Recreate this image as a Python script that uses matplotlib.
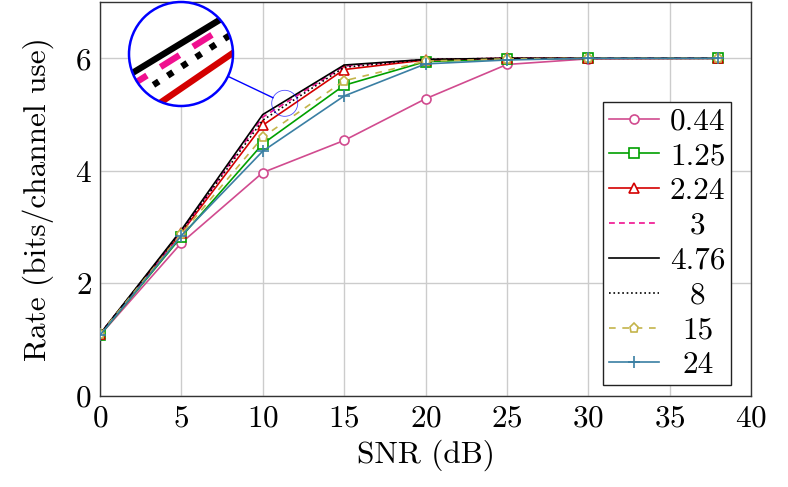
## rate vs SNR for different parameter values, with a circular zoom inset

import numpy as np
from matplotlib import pyplot as plt
from matplotlib.patches import Circle, Ellipse
from matplotlib.lines import Line2D

plt.rcParams['font.family'] = 'cmr10'
plt.rcParams['mathtext.fontset'] = 'cm'
plt.rcParams['axes.formatter.use_mathtext'] = True

## data
snr = [0, 5, 10, 15, 20, 25, 30, 38]
r044 = [1.08, 2.72, 3.97, 4.54, 5.28, 5.89, 5.99, 6.0]
r125 = [1.08, 2.83, 4.48, 5.52, 5.94, 5.99, 6.0, 6.0]
r224 = [1.10, 2.90, 4.81, 5.80, 5.97, 6.0, 6.0, 6.0]
r3 = [1.10, 2.92, 4.955, 5.86, 5.98, 6.0, 6.0, 6.0]
r476 = [1.10, 2.95, 5.0, 5.88, 5.98, 6.0, 6.0, 6.0]
r8 = [1.10, 2.93, 4.90, 5.84, 5.98, 6.0, 6.0, 6.0]
r15 = [1.10, 2.88, 4.60, 5.60, 5.95, 5.99, 6.0, 6.0]
r24 = [1.08, 2.85, 4.35, 5.33, 5.90, 5.97, 6.0, 6.0]
labels = ['0.44', '1.25', '2.24', '3', '4.76', '8', '15', '24']

## style for each curve
styles = [
    dict(color='#d14b8f', ls='-', marker='o', ms=6.5),
    dict(color='#00a000', ls='-', marker='s', ms=6.5),
    dict(color='#d40000', ls='-', marker='^', ms=6.5),
    dict(color='#f0108f', ls=(0, (3.5, 2.5)), marker=None),
    dict(color='black', ls='-', marker=None),
    dict(color='black', ls=':', marker=None),
    dict(color='#c4b44a', ls=(0, (4, 4)), marker='p', ms=6.5),
    dict(color='#3a7fa3', ls='-', marker='+', ms=8),
]
series = [r044, r125, r224, r3, r476, r8, r15, r24]

W, H = 788, 487
fs = 22.5
fig = plt.figure(figsize=(W/100, H/100), dpi=100)
ax = fig.add_axes([100/W, (H-396)/H, 651/W, 394/H])

for y, lab, st in zip(series, labels, styles):
    ax.plot(snr, y, label=lab, color=st['color'], ls=st['ls'], lw=1.2,
            marker=st['marker'], ms=st.get('ms', 6), mfc='white',
            mew=1.2, zorder=3)

ax.set_xlim(0, 40)
ax.set_ylim(0, 7)
ax.set_xticks(range(0, 41, 5))
ax.set_yticks([0, 2, 4, 6])
ax.grid(color='#cccccc', lw=1.0)
ax.set_axisbelow(True)
ax.tick_params(labelsize=fs, direction='in', length=0, pad=6)
for s in ax.spines.values():
    s.set_color('#333333')
    s.set_linewidth(1.0)
ax.set_xlabel('SNR (dB)', fontsize=fs, labelpad=5)
ax.set_ylabel('Rate (bits/channel use)', fontsize=fs, labelpad=15)

leg = ax.legend(loc='upper right', bbox_to_anchor=((731-100)/651, (396-102)/394),
                borderaxespad=0, fontsize=fs, fancybox=False, framealpha=1,
                edgecolor='#222222', handlelength=1.6, handletextpad=0.35,
                labelspacing=0.22, borderpad=0.18)
leg.get_frame().set_linewidth(1.0)

## centre legend labels like pgfplots does
fig.canvas.draw()
r = fig.canvas.get_renderer()
widths = [t.get_window_extent(r).width for t in leg.get_texts()]
wmax = max(widths)
for t, w in zip(leg.get_texts(), widths):
    t.set_x((wmax - w) / 2)

## zoom spot and the magnified circle
zc = (11.35, 5.2)
r_small = 13
mag = 5
sx = ax.bbox.width / 40
sy = ax.bbox.height / 7
ax.add_patch(Ellipse(zc, 2*r_small/sx, 2*r_small/sy, fill=False,
                     ec='blue', lw=0.6, alpha=0.7, zorder=5))

cx, cy, rb = 181, 54, 52
axin = fig.add_axes([(cx-rb)/W, (H-cy-rb)/H, 2*rb/W, 2*rb/H])
axin.set_xlim(zc[0] - rb/(sx*mag), zc[0] + rb/(sx*mag))
axin.set_ylim(zc[1] - rb/(sy*mag), zc[1] + rb/(sy*mag))
axin.axis('off')
clip = Circle((0.5, 0.5), 0.5, transform=axin.transAxes)
axin.add_patch(Circle((0.5, 0.5), 0.5, transform=axin.transAxes,
                      fc='white', ec='none', zorder=0))
for y, st in zip(series, styles):
    ln, = axin.plot(snr, y, color=st['color'], ls=st['ls'], lw=4.6, zorder=2)
    ln.set_clip_path(clip)
axin.add_patch(Circle((0.5, 0.5), 0.5, transform=axin.transAxes,
                      fill=False, ec='blue', lw=1.8, zorder=4, clip_on=False))

## line joining the two circles
p = ax.transData.transform(zc)
zx, zy = p[0], p[1]
bx, by = cx, H - cy
d = np.hypot(zx - bx, zy - by)
ux, uy = (zx - bx) / d, (zy - by) / d
x0, y0 = bx + rb*ux, by + rb*uy
x1, y1 = zx - r_small*ux, zy - r_small*uy
fig.add_artist(Line2D([x0/W, x1/W], [y0/H, y1/H], transform=fig.transFigure,
                      color='blue', lw=1.0))

plt.savefig('out.png', dpi=100)
